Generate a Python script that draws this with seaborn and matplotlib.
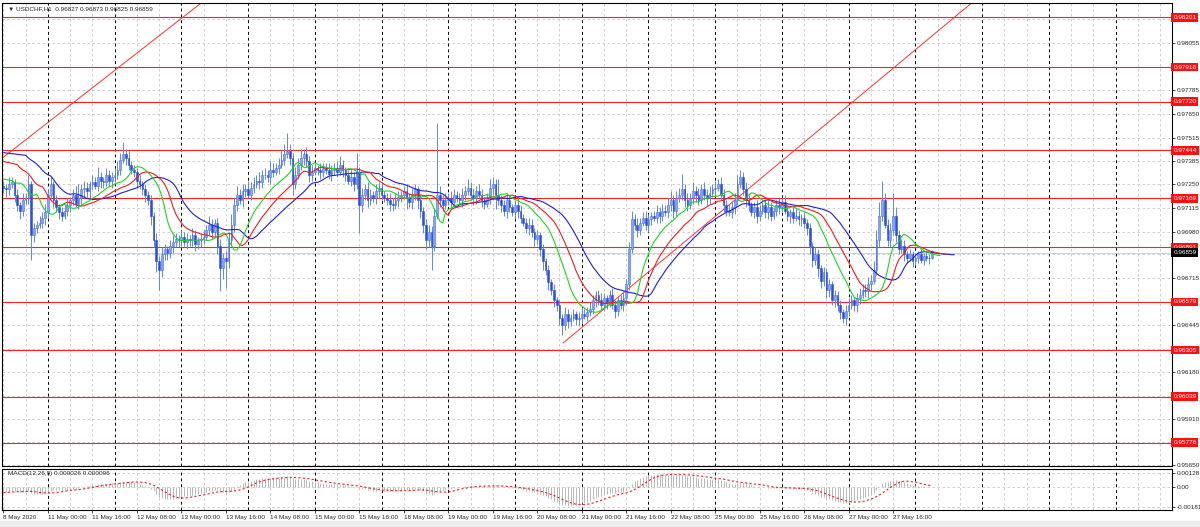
import matplotlib
matplotlib.use("Agg")
import matplotlib.pyplot as plt
from matplotlib.patches import Rectangle
import numpy as np
import pandas as pd
import seaborn as sns

# ---------------------------------------------------------------------------
# data (USDCHF H1, 8 May 08:00 .. 28 May 06:00)
# ---------------------------------------------------------------------------
first_open = 0.9724
closes = [
    0.9723, 0.9722, 0.9725, 0.9726, 0.9719, 0.9713, 0.9710, 0.9716, 0.9717, 0.9725,
    0.9696, 0.9700, 0.9702, 0.9703, 0.9706, 0.9709, 0.9719, 0.9725, 0.9716, 0.9712,
    0.9709, 0.9707, 0.9710, 0.9713, 0.9716, 0.9719, 0.9714, 0.9717, 0.9722, 0.9723,
    0.9721, 0.9725, 0.9726, 0.9724, 0.9729, 0.9727, 0.9726, 0.9730, 0.9727, 0.9729,
    0.9730, 0.9733, 0.9739, 0.9742, 0.9740, 0.9736, 0.9733, 0.9732, 0.9727, 0.9725,
    0.9722, 0.9719, 0.9716, 0.9707, 0.9693, 0.9681, 0.9676, 0.9685, 0.9688, 0.9686,
    0.9690, 0.9692, 0.9694, 0.9693, 0.9695, 0.9692, 0.9694, 0.9693, 0.9696, 0.9691,
    0.9693, 0.9694, 0.9695, 0.9699, 0.9702, 0.9698, 0.9703, 0.9690, 0.9677, 0.9683,
    0.9681, 0.9693, 0.9702, 0.9713, 0.9719, 0.9716, 0.9721, 0.9722, 0.9719, 0.9723,
    0.9725, 0.9727, 0.9726, 0.9730, 0.9730, 0.9729, 0.9733, 0.9732, 0.9734, 0.9736,
    0.9739, 0.9742, 0.9744, 0.9740, 0.9725, 0.9730, 0.9736, 0.9740, 0.9742, 0.9738,
    0.9730, 0.9732, 0.9734, 0.9733, 0.9732, 0.9734, 0.9733, 0.9731, 0.9733, 0.9734,
    0.9732, 0.9736, 0.9733, 0.9730, 0.9727, 0.9729, 0.9725, 0.9732, 0.9713, 0.9719,
    0.9722, 0.9716, 0.9719, 0.9717, 0.9721, 0.9723, 0.9719, 0.9717, 0.9716, 0.9714,
    0.9713, 0.9716, 0.9718, 0.9719, 0.9721, 0.9717, 0.9715, 0.9719, 0.9722, 0.9716,
    0.9710, 0.9702, 0.9693, 0.9698, 0.9690, 0.9707, 0.9719, 0.9716, 0.9713, 0.9716,
    0.9717, 0.9715, 0.9719, 0.9717, 0.9716, 0.9719, 0.9721, 0.9723, 0.9719, 0.9717,
    0.9721, 0.9719, 0.9716, 0.9714, 0.9717, 0.9723, 0.9725, 0.9719, 0.9716, 0.9713,
    0.9710, 0.9716, 0.9712, 0.9709, 0.9713, 0.9710, 0.9706, 0.9703, 0.9700, 0.9702,
    0.9698, 0.9694, 0.9696, 0.9688, 0.9681, 0.9676, 0.9669, 0.9665, 0.9659, 0.9656,
    0.9649, 0.9645, 0.9651, 0.9647, 0.9649, 0.9651, 0.9648, 0.9649, 0.9651, 0.9650,
    0.9652, 0.9654, 0.9659, 0.9662, 0.9659, 0.9656, 0.9660, 0.9658, 0.9662, 0.9656,
    0.9653, 0.9659, 0.9656, 0.9660, 0.9668, 0.9688, 0.9705, 0.9702, 0.9699, 0.9703,
    0.9706, 0.9702, 0.9705, 0.9707, 0.9706, 0.9709, 0.9707, 0.9710, 0.9709, 0.9713,
    0.9716, 0.9710, 0.9717, 0.9719, 0.9722, 0.9716, 0.9713, 0.9717, 0.9721, 0.9719,
    0.9716, 0.9722, 0.9719, 0.9717, 0.9720, 0.9722, 0.9723, 0.9725, 0.9719, 0.9713,
    0.9710, 0.9709, 0.9712, 0.9716, 0.9725, 0.9729, 0.9722, 0.9716, 0.9713, 0.9709,
    0.9712, 0.9707, 0.9710, 0.9713, 0.9709, 0.9712, 0.9707, 0.9710, 0.9713, 0.9712,
    0.9715, 0.9710, 0.9707, 0.9709, 0.9706, 0.9707, 0.9705, 0.9706, 0.9703, 0.9700,
    0.9690, 0.9682, 0.9685, 0.9677, 0.9670, 0.9675, 0.9665, 0.9668, 0.9659, 0.9662,
    0.9656, 0.9652, 0.9649, 0.9653, 0.9656, 0.9659, 0.9656, 0.9660, 0.9662, 0.9665,
    0.9664, 0.9668, 0.9670, 0.9676, 0.9693, 0.9707, 0.9716, 0.9702, 0.9693, 0.9699,
    0.9707, 0.9696, 0.9688, 0.9690, 0.9685, 0.9683, 0.9685, 0.9681, 0.9683, 0.9685,
    0.9682, 0.9684, 0.9683, 0.96827, 0.96859,
]
# wick lengths above / below the body, in pips
wick_up = [
    3, 2, 4, 3, 2, 3, 2, 4, 3, 5,   2, 3, 2, 4, 3, 5, 3, 4, 2, 3,
    2, 3, 3, 4, 2, 3, 5, 8, 3, 4,   3, 2, 4, 3, 6, 3, 2, 4, 3, 3,
    4, 5, 4, 7, 3, 4, 2, 3, 2, 3,   2, 3, 2, 3, 2, 4, 3, 4, 3, 2,
    3, 4, 3, 2, 4, 3, 3, 2, 4, 3,   2, 3, 4, 3, 5, 3, 2, 3, 4, 3,
    4, 5, 6, 4, 5, 3, 4, 3, 5, 3,   4, 3, 5, 3, 4, 3, 5, 4, 3, 4,
    5, 6, 10, 4, 3, 5, 4, 5, 3, 4,  3, 4, 3, 2, 4, 3, 3, 4, 3, 3,
    4, 5, 3, 2, 3, 4, 3, 11, 3, 4,  3, 4, 3, 2, 4, 3, 3, 2, 3, 4,
    3, 4, 3, 2, 3, 4, 3, 4, 3, 2,   3, 2, 3, 4, 3, 4, 41, 5, 3, 4,
    3, 4, 3, 2, 3, 4, 3, 5, 3, 4,   3, 4, 3, 2, 3, 5, 4, 3, 9, 3,
    3, 4, 3, 2, 3, 4, 3, 2, 3, 4,   3, 2, 3, 2, 3, 2, 3, 2, 3, 2,
    3, 2, 4, 3, 2, 3, 2, 3, 4, 3,   3, 4, 3, 2, 3, 4, 3, 2, 3, 4,
    3, 2, 3, 4, 3, 4, 5, 3, 4, 3,   3, 4, 3, 2, 3, 4, 3, 4, 3, 4,
    5, 3, 4, 4, 9, 3, 4, 3, 5, 3,   4, 3, 4, 3, 4, 3, 4, 3, 4, 3,
    3, 4, 3, 4, 5, 4, 3, 4, 3, 2,   3, 4, 3, 2, 3, 4, 3, 2, 3, 4,
    3, 4, 3, 2, 3, 4, 3, 2, 3, 2,   3, 2, 4, 3, 2, 3, 2, 3, 2, 3,
    2, 3, 2, 3, 4, 3, 2, 3, 4, 3,   3, 4, 3, 5, 6, 8, 11, 4, 3, 4,
    13, 5, 3, 4, 3, 2, 3, 2, 3, 2,  3, 2, 3, 2, 1.4,
]
wick_dn = [
    3, 4, 3, 2, 4, 3, 5, 3, 2, 3,   14, 4, 3, 2, 3, 4, 3, 2, 4, 3,
    4, 3, 2, 3, 4, 3, 2, 3, 4, 5,   3, 4, 3, 2, 3, 4, 3, 2, 3, 4,
    3, 2, 3, 2, 4, 3, 2, 3, 4, 3,   3, 4, 3, 5, 4, 6, 11, 4, 3, 4,
    3, 4, 3, 4, 3, 2, 4, 3, 3, 4,   3, 4, 3, 2, 3, 4, 3, 5, 13, 6,
    15, 4, 3, 4, 3, 2, 4, 3, 2, 3,  3, 2, 4, 3, 2, 3, 4, 3, 2, 3,
    2, 3, 2, 4, 6, 3, 2, 3, 4, 3,   4, 3, 2, 3, 4, 3, 2, 3, 4, 3,
    3, 2, 4, 3, 2, 3, 4, 3, 16, 4,  3, 4, 3, 2, 3, 4, 3, 2, 3, 4,
    3, 2, 4, 3, 2, 6, 3, 4, 3, 5,   4, 5, 5, 4, 14, 3, 2, 4, 3, 2,
    3, 4, 3, 2, 3, 4, 3, 2, 3, 4,   3, 2, 4, 3, 2, 3, 4, 8, 3, 4,
    3, 4, 3, 2, 3, 4, 3, 2, 3, 4,   3, 4, 3, 4, 5, 3, 4, 3, 4, 3,
    4, 6, 3, 4, 3, 2, 3, 4, 3, 2,   3, 2, 3, 4, 3, 2, 3, 4, 3, 2,
    4, 3, 2, 3, 4, 3, 2, 3, 4, 3,   2, 3, 4, 3, 2, 3, 4, 3, 2, 3,
    3, 4, 3, 2, 3, 4, 3, 2, 3, 4,   3, 2, 3, 4, 3, 2, 3, 2, 3, 4,
    3, 2, 3, 4, 3, 2, 3, 4, 3, 2,   3, 4, 3, 2, 3, 4, 3, 2, 3, 4,
    3, 2, 3, 4, 3, 2, 3, 4, 3, 4,   5, 4, 3, 5, 4, 3, 5, 4, 3, 4,
    3, 4, 3, 4, 3, 2, 3, 4, 3, 2,   3, 4, 3, 2, 3, 4, 3, 2, 3, 4,
    3, 4, 3, 2, 4, 3, 2, 3, 2, 3,   2, 3, 2, 3, 0.2,
]

# indicator values at the left edge of the chart (history before the first bar)
jaw_start, teeth_start, lips_start = 0.9743, 0.9738, 0.9728
ema_fast_start, ema_slow_start, signal_start = 0.9722, 0.9727, -0.0005

# horizontal levels, trend lines
levels = [0.98201, 0.97918, 0.97720, 0.97444, 0.97169, 0.96891,
          0.96579, 0.96305, 0.96039, 0.95776]
bid = 0.96859
trend1_x, trend1_y = [-1.3, 72.5], [0.97388, 0.98300]
trend2_x, trend2_y = [201.3, 349.5], [0.96345, 0.98300]

# right price scale
grid_prices = [0.98190, 0.98055, 0.97920, 0.97785, 0.97650, 0.97515, 0.97385,
               0.97250, 0.97115, 0.96980, 0.96850, 0.96715, 0.96580, 0.96445,
               0.96310, 0.96180, 0.96045, 0.95910, 0.95780, 0.95650]
hidden_prices = [0.98190, 0.97920, 0.96850, 0.96580, 0.96310, 0.96045, 0.95780]
macd_ticks = [0.00128, 0.0, -0.00181]
macd_tick_labels = ["0.00128", "0.00", "-0.00181"]

# time scale
time_labels = ["8 May 2020", "11 May 00:00", "11 May 16:00", "12 May 08:00",
               "13 May 00:00", "13 May 16:00", "14 May 08:00", "15 May 00:00",
               "15 May 16:00", "18 May 08:00", "19 May 00:00", "19 May 16:00",
               "20 May 08:00", "21 May 00:00", "21 May 16:00", "22 May 08:00",
               "25 May 00:00", "25 May 16:00", "26 May 08:00", "27 May 00:00",
               "27 May 16:00"]
time_label_bars = [0] + list(range(16, 321, 16))
day_starts = list(range(16, 421, 24))

title = "\u25bc USDCHF,H1  0.96827 0.96873 0.96825 0.96859"
macd_title = "MACD(12,26,9) 0.000026 0.000096"

# ---------------------------------------------------------------------------
closes = np.array(closes)
opens = np.r_[first_open, closes[:-1]]
highs = np.maximum(opens, closes) + np.array(wick_up) * 1e-4
lows = np.minimum(opens, closes) - np.array(wick_dn) * 1e-4
bars = np.arange(len(closes))
median = (highs + lows) / 2


def smma(values, n, start):
    out, s = [], start
    for v in values:
        s = (s * (n - 1) + v) / n
        out.append(s)
    return np.array(out)


def ema(values, n, start):
    out, s, a = [], start, 2.0 / (n + 1)
    for v in values:
        s = s + a * (v - s)
        out.append(s)
    return np.array(out)


alligator = []
for name, n, shift, start, colour in [("jaw", 13, 8, jaw_start, "#1f1fd6"),
                                      ("teeth", 8, 5, teeth_start, "#ee1c1c"),
                                      ("lips", 5, 3, lips_start, "#1ed41e")]:
    line = smma(median, n, start)
    alligator.append(pd.DataFrame({"x": np.r_[0, bars + shift],
                                   "y": np.r_[start, line],
                                   "name": name, "colour": colour}))

macd = ema(closes, 12, ema_fast_start) - ema(closes, 26, ema_slow_start)
buf = [signal_start] * 8 + list(macd)
signal = np.array([np.mean(buf[i:i + 9]) for i in range(len(macd))])

# ---------------------------------------------------------------------------
sns.set_style("white")
plt.rcParams["font.family"] = ["Liberation Sans", "DejaVu Sans"]
FS = 4.6
W, H = 1200, 527

fig = plt.figure(figsize=(W / 100, H / 100), dpi=100)
ax = fig.add_axes([2 / W, 1 - 466 / H, 1170 / W, 463 / H])
ax2 = fig.add_axes([2 / W, 1 - 510 / H, 1170 / W, 41 / H], sharex=ax)
fig.patches.append(Rectangle((0, 0), 1, 6 / H, transform=fig.transFigure,
                             color="#ececec", zorder=0))

ax.set_xlim(-0.5, 420.3)
ax.set_ylim(0.95644, 0.98283)
ax2.set_ylim(-0.00208, 0.00164)

grid_kw = dict(color="#c8c8c8", lw=0.6, ls=(0, (3, 3)), zorder=0)
for a in (ax, ax2):
    for g in range(0, 421, 8):
        if g not in day_starts:
            a.axvline(g, **grid_kw)
    for d in day_starts:
        a.axvline(d, color="black", lw=0.7, ls=(0, (3, 3)), zorder=1)
    for s in a.spines.values():
        s.set_color("black")
        s.set_linewidth(0.8)
for p in grid_prices:
    ax.axhline(p, **grid_kw)
for p in macd_ticks:
    ax2.axhline(p, **grid_kw)

# levels, bid line, trend lines
for lv in levels:
    ax.axhline(lv, color="#ff2020", lw=0.8, zorder=2)
ax.axhline(bid, color="#c4cfcc", lw=0.6, zorder=2)
ax.plot(trend1_x, trend1_y, color="#ff3030", lw=0.7, zorder=2)
ax.plot(trend2_x, trend2_y, color="#ff3030", lw=0.7, zorder=2)

# candles
up = closes >= opens
ax.vlines(bars, lows, highs, color="#5f86ee", lw=0.7, zorder=3)
ax.bar(bars[up], closes[up] - opens[up], bottom=opens[up], width=0.62,
       color="#86a4f4", edgecolor="#4a70e6", linewidth=0.4, zorder=4)
ax.bar(bars[~up], closes[~up] - opens[~up], bottom=opens[~up], width=0.62,
       color="#2b4fd6", edgecolor="#2b4fd6", linewidth=0.4, zorder=4)

# alligator
for df in alligator:
    sns.lineplot(data=df, x="x", y="y", ax=ax, color=df["colour"].iloc[0],
                 lw=0.8, sort=False, estimator=None, zorder=5)

# MACD: histogram as thin grey bars, signal as red dotted line
ax2.vlines(bars, 0, macd, color="#b8b8b8", lw=0.7, zorder=3)
sns.lineplot(x=bars, y=signal, ax=ax2, color="#e82020", lw=0.8,
             ls=(0, (2, 2)), sort=False, estimator=None, zorder=4)

# axes labels
ax.yaxis.tick_right()
ax.set_yticks(grid_prices)
ax.set_yticklabels(["" if p in hidden_prices else f"{p:.5f}" for p in grid_prices])
ax.tick_params(axis="y", length=2, width=0.6, labelsize=FS, pad=1.5, right=True)
ax.tick_params(axis="x", bottom=False, labelbottom=False)
ax.set_xlabel("")
ax.set_ylabel("")

ax2.yaxis.tick_right()
ax2.set_yticks(macd_ticks)
ax2.set_yticklabels(macd_tick_labels)
ax2.tick_params(axis="y", length=2, width=0.6, labelsize=FS, pad=1.5, right=True)
ax2.set_xticks(time_label_bars)
ax2.set_xticklabels(time_labels, ha="left")
ax2.tick_params(axis="x", length=2, width=0.6, labelsize=FS, pad=1.5, bottom=True)
ax2.set_xlabel("")
ax2.set_ylabel("")

blend = ax.get_yaxis_transform()
for lv in levels:
    ax.text(1.0012, lv, f"{lv:.5f}", transform=blend, ha="left", va="center",
            fontsize=FS, color="white", clip_on=False, zorder=10,
            bbox=dict(boxstyle="square,pad=0.3", fc="#ff1010", ec="none"))
ax.text(1.0012, bid, f"{bid:.5f}", transform=blend, ha="left", va="center",
        fontsize=FS, color="white", clip_on=False, zorder=11,
        bbox=dict(boxstyle="square,pad=0.3", fc="black", ec="none"))

fig.text(8 / W, 1 - 9 / H, title, fontsize=FS, va="center", ha="left")
fig.text(8 / W, 1 - 474 / H, macd_title, fontsize=FS, va="center", ha="left")

fig.savefig("out.png", dpi=100)
